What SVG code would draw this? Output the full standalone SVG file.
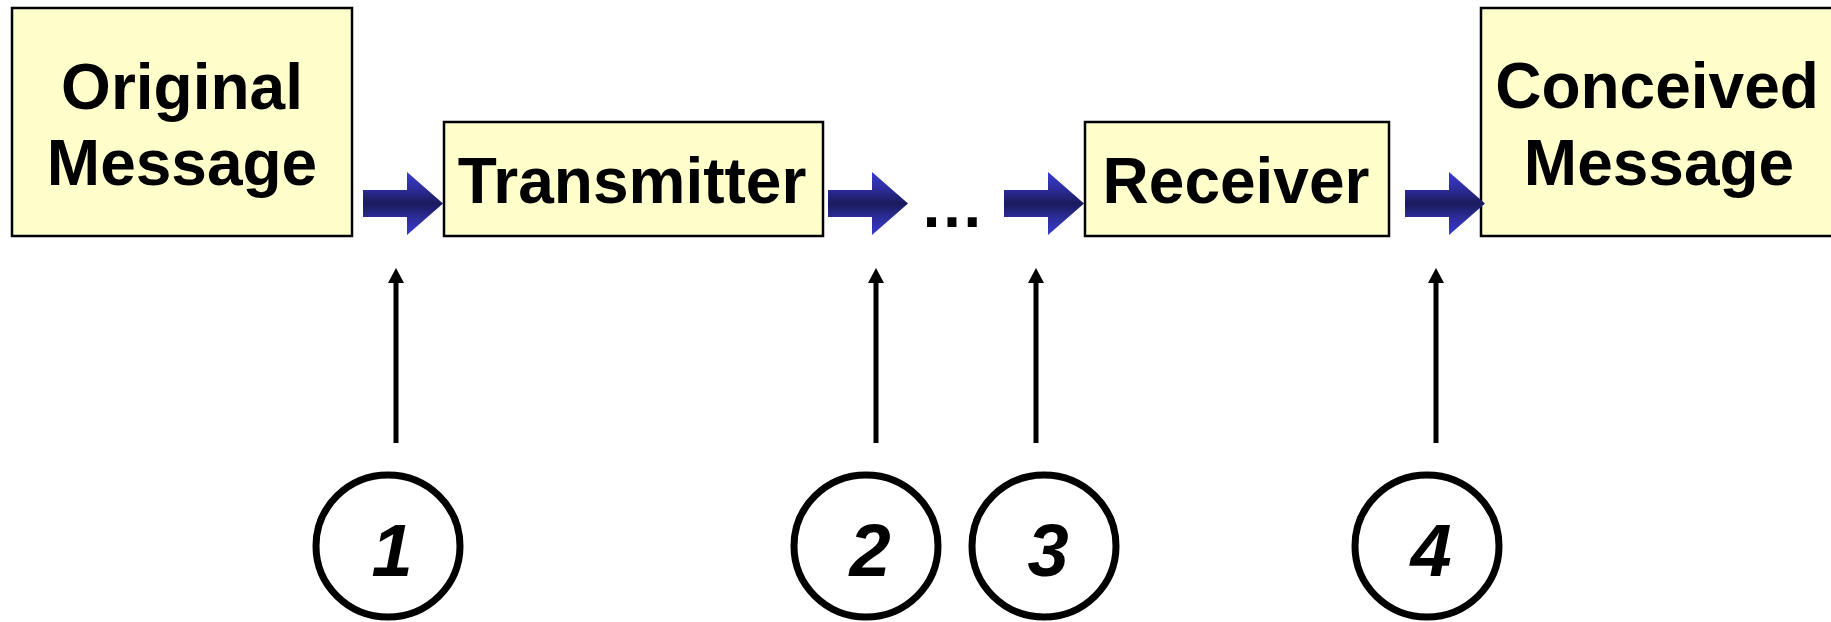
<svg xmlns="http://www.w3.org/2000/svg" width="1831" height="622" viewBox="0 0 1831 622">
  <style>
    .box { fill: #ffffcc; stroke: #000000; stroke-width: 2.5; }
    .lbl { font-family: "Liberation Sans", Arial, sans-serif; font-weight: bold; font-size: 64px; fill: #000000; text-anchor: middle; }
    .num { font-family: "Liberation Sans", Arial, sans-serif; font-weight: bold; font-style: italic; font-size: 74px; fill: #000000; text-anchor: middle; }
    .circ { fill: #ffffff; stroke: #000000; stroke-width: 7; }
    .blk { fill: url(#blueGrad); }
    .up { stroke: #000000; stroke-width: 5; fill: none; marker-end: url(#head); }
  </style>
  <defs>
    <linearGradient id="blueGrad" x1="0" y1="0" x2="0" y2="1">
      <stop offset="0" stop-color="#3a3ad0"/>
      <stop offset="0.28" stop-color="#2c2c98"/>
      <stop offset="0.5" stop-color="#1a1a5c"/>
      <stop offset="0.72" stop-color="#2c2c98"/>
      <stop offset="1" stop-color="#3a3ad0"/>
    </linearGradient>
    <marker id="head" markerUnits="userSpaceOnUse" viewBox="0 -8 15 16" refX="0" refY="0" markerWidth="15" markerHeight="16" orient="auto">
      <path d="M0,-8 L15,0 L0,8 z" fill="#000000"/>
    </marker>
  </defs>

  <g id="original-message">
    <rect class="box" x="12" y="8" width="340" height="228"/>
    <text class="lbl" x="182" y="109">Original</text>
    <text class="lbl" x="182" y="185">Message</text>
  </g>

  <g id="transmitter">
    <rect class="box" x="444" y="122" width="379" height="114"/>
    <text class="lbl" x="632" y="203">Transmitter</text>
  </g>

  <g id="ellipsis">
    <text class="lbl" x="952" y="227">…</text>
  </g>

  <g id="receiver">
    <rect class="box" x="1085" y="122" width="304" height="114"/>
    <text class="lbl" x="1236" y="203">Receiver</text>
  </g>

  <g id="conceived-message">
    <rect class="box" x="1481" y="8" width="360" height="228"/>
    <text class="lbl" x="1657" y="108">Conceived</text>
    <text class="lbl" x="1659" y="185">Message</text>
  </g>

  <g id="connectors">
    <path class="blk" d="M363,190 H407 V172 L443,203.5 L407,235 V217 H363 Z"/>
    <path class="blk" d="M828,190 H872 V172 L908,203.5 L872,235 V217 H828 Z"/>
    <path class="blk" d="M1004,190 H1048 V172 L1084,203.5 L1048,235 V217 H1004 Z"/>
    <path class="blk" d="M1405,190 H1449 V172 L1485,203.5 L1449,235 V217 H1405 Z"/>
    <line class="up" x1="396" y1="443" x2="396" y2="283"/>
    <line class="up" x1="876" y1="443" x2="876" y2="283"/>
    <line class="up" x1="1036" y1="443" x2="1036" y2="283"/>
    <line class="up" x1="1436" y1="443" x2="1436" y2="283"/>
  </g>

  <g id="point-1">
    <ellipse class="circ" cx="388" cy="546" rx="72" ry="71"/>
    <text class="num" x="392" y="576">1</text>
  </g>
  <g id="point-2">
    <ellipse class="circ" cx="866" cy="546" rx="72" ry="71"/>
    <text class="num" x="870" y="576">2</text>
  </g>
  <g id="point-3">
    <ellipse class="circ" cx="1044" cy="546" rx="72" ry="71"/>
    <text class="num" x="1048" y="576">3</text>
  </g>
  <g id="point-4">
    <ellipse class="circ" cx="1427" cy="546" rx="72" ry="71"/>
    <text class="num" x="1431" y="576">4</text>
  </g>
</svg>
